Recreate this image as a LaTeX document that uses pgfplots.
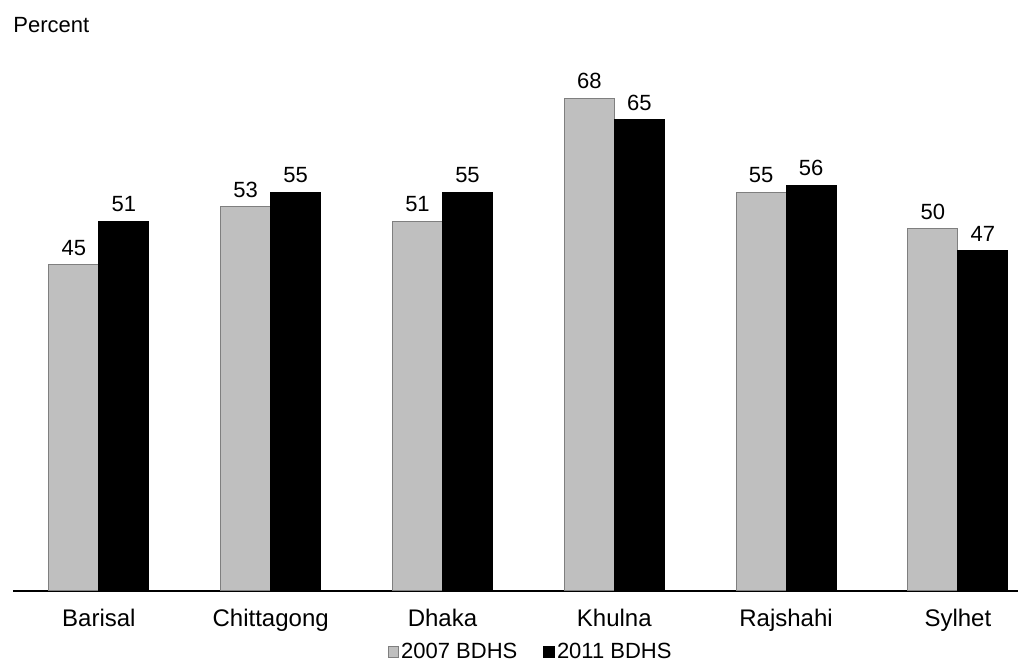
\documentclass[border=0pt]{standalone}
\usepackage{pgfplots}
\pgfplotsset{compat=1.18}
\usepackage{fontspec}
\setmainfont{Liberation Sans}
\definecolor{bargray}{HTML}{BFBFBF}
\definecolor{edgegray}{HTML}{7F7F7F}
\begin{document}
\begin{tikzpicture}
\useasboundingbox (0,0) rectangle (513.5pt,334pt);
\node[anchor=base west, inner sep=0pt, font=\fontsize{11}{13}\selectfont] at (6.5pt,317.5pt) {Percent};
\begin{axis}[
  at={(6.5pt,38.5pt)}, anchor=south west,
  scale only axis, width=502.5pt, height=261pt,
  ybar=0pt, bar width=25pt,
  xmin=-0.5, xmax=5.35, ymin=0, ymax=72,
  axis x line=bottom, axis y line=none,
  axis line style={-, line width=0.6pt},
  xtick=data,
  xticklabels={Barisal,Chittagong,Dhaka,Khulna,Rajshahi,Sylhet},
  xtick style={draw=none},
  major tick length=0pt,
  xticklabel style={font=\fontsize{12}{14}\selectfont, yshift=-5.5pt},
  /pgf/number format/assume math mode=true,
  nodes near coords,
  every node near coord/.append style={font=\fontsize{11}{13}\selectfont, yshift=1pt},
  legend style={at={(0.515,-0.117)}, anchor=center, draw=none,
    legend columns=2, font=\fontsize{11}{13}\selectfont,
    nodes={inner sep=1pt},
    /tikz/every even column/.append style={column sep=12pt},
    inner sep=0pt},
  legend image code/.code={\draw[#1, line width=0.4pt] (0pt,-2.6pt) rectangle (5.4pt,2.8pt);},
  clip=false,
]
\addplot[fill=bargray, draw=edgegray, line width=0.5pt] coordinates {(0,45) (1,53) (2,51) (3,68) (4,55) (5,50)};
\addplot[fill=black, draw=black, line width=0.5pt] coordinates {(0,51) (1,55) (2,55) (3,65) (4,56) (5,47)};
\legend{2007 BDHS, 2011 BDHS}
\end{axis}
\end{tikzpicture}
\end{document}
